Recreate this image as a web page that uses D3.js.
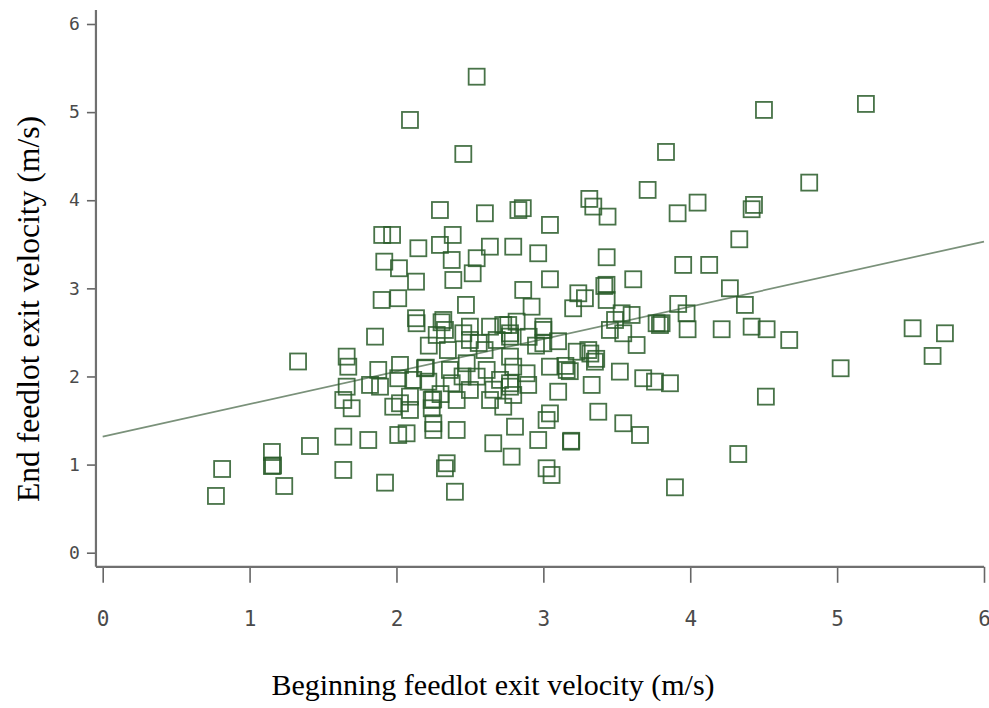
<!DOCTYPE html>
<html>
<head>
<meta charset="utf-8">
<script src="https://cdn.jsdelivr.net/npm/d3@7"></script>
<style>
  body { margin: 0; background: #fff; }
  svg { display: block; }
</style>
</head>
<body>
<div id="chart"></div>
<script>
// beginning vs end feedlot exit velocity
var beginVel = [
  0.771, 0.813, 1.152, 1.152, 1.16, 1.236, 1.411, 1.33,
  2.546, 2.092, 2.455, 3.835, 3.71, 2.296, 2.602, 2.83, 2.86, 3.313, 3.34, 3.437,
  3.045, 1.903, 1.97, 2.149, 2.296, 2.383, 2.636, 2.795, 2.965, 3.431,
  1.917, 2.017, 2.376, 2.546, 2.133, 2.387, 2.519, 3.045, 3.612, 3.415,
  3.43, 3.238, 3.283, 2.863, 1.899, 2.012, 2.473, 2.92, 3.203, 3.431,
  2.133, 2.319,
  4.502, 5.196, 4.81, 4.05, 3.914, 4.434, 4.418, 4.334, 3.952, 4.129,
  4.27, 3.918, 3.975, 4.372, 5.514, 5.734, 5.65, 5.024, 4.674, 4.52,
  4.418, 4.214, 3.982, 3.805, 4.515, 4.327, 3.896, 3.862,
  2.818, 3.0, 3.533, 3.601, 3.771, 3.488, 2.761,
  1.854, 1.661, 1.672, 1.661, 1.638, 1.695, 1.82, 1.876, 1.888, 2.024,
  2.012, 2.114, 1.978, 2.024, 2.092, 2.092, 2.194, 2.217, 2.24, 2.25,
  2.24, 2.251, 2.251, 2.364, 2.376, 2.41, 2.41, 2.33, 2.274, 2.5,
  2.478, 2.546, 2.5, 2.614, 2.705, 2.637, 2.727, 2.773, 2.682, 2.773,
  2.773, 2.637, 2.455, 1.638, 1.638, 1.808, 1.922, 2.012, 2.069, 2.342,
  2.33, 2.398, 2.659, 2.784, 2.137, 2.307, 2.5, 2.727,
  3.0, 3.0, 2.773, 2.795, 2.886, 2.773, 2.897, 2.795, 3.045, 3.159,
  3.101, 3.227, 3.306, 3.351, 3.329, 3.453, 3.544, 3.635, 3.521, 3.68,
  3.76, 3.794, 3.374, 3.544, 3.658, 3.045, 3.022, 2.807, 2.965, 3.188,
  3.19, 3.022, 3.056,
  3.36, 3.32, 3.18, 3.15, 2.22, 2.35, 2.56, 2.6, 2.9, 2.95,
  3.1, 2.2, 2.45, 2.3, 2.66
];
var endVel = [
  0.644, 0.95, 1.143, 0.984, 0.99, 0.757, 1.211, 2.17,
  5.402, 4.911, 4.525, 4.548, 4.117, 3.889, 3.852, 3.889, 3.91, 4.015, 3.928, 3.814,
  3.72, 3.606, 3.606, 3.455, 3.493, 3.606, 3.473, 3.473, 3.398, 3.353,
  3.303, 3.228, 3.322, 3.342, 3.076, 3.095, 3.171, 3.103, 3.103, 3.027,
  3.04, 2.944, 2.888, 2.982, 2.868, 2.888, 2.812, 2.792, 2.774, 2.868,
  2.661, 2.641,
  5.025, 5.093, 4.2, 3.973, 3.852, 3.947, 3.898, 3.557, 3.266, 3.266,
  3.001, 2.823, 2.717, 2.812, 2.547, 2.49, 2.233, 2.093, 2.414, 2.536,
  2.565, 2.536, 2.536, 2.604, 1.771, 1.12, 0.742, 1.923,
  2.622, 2.565, 2.717, 2.698, 2.604, 2.641, 2.584,
  2.452, 2.225, 2.111, 1.884, 1.733, 1.639, 1.904, 2.074, 1.884, 2.131,
  1.98, 1.961, 1.657, 1.696, 1.771, 1.62, 2.093, 1.941, 1.733, 1.74,
  1.639, 1.469, 1.393, 2.074, 1.923, 1.733, 1.393, 2.528, 2.471, 2.414,
  2.15, 1.998, 1.847, 2.074, 1.961, 1.733, 1.657, 1.884, 2.414, 2.452,
  2.225, 2.565, 2.49, 1.317, 0.939, 1.279, 0.795, 1.336, 1.355, 1.015,
  0.958, 0.692, 1.242, 1.09, 2.604, 2.615, 2.565, 2.584,
  2.528, 2.377, 2.49, 2.111, 2.036, 1.923, 1.904, 1.79, 2.111, 2.074,
  1.827, 2.281, 2.3, 2.168, 1.904, 2.528, 2.49, 2.357, 2.055, 1.98,
  1.941, 2.584, 1.6, 1.469, 1.336, 1.581, 1.506, 1.43, 1.279, 1.26,
  1.27, 0.958, 0.882,
  2.2, 2.26, 2.06, 2.12, 2.35, 2.3, 2.38, 2.3, 2.45, 2.35,
  2.4, 2.1, 2.0, 1.8, 1.85
];

// fitted line (intercept, slope)
var fitLine = [1.317, 0.369];

var xTicks = [0, 1, 2, 3, 4, 5, 6];
var yTicks = [0, 1, 2, 3, 4, 5, 6];

var width = 989, height = 708;

var svg = d3.select("#chart").append("svg")
    .attr("width", width)
    .attr("height", height)
    .style("background", "#fff");

var x = d3.scaleLinear().domain([0, 6]).range([102.7, 984]);
var y = d3.scaleLinear().domain([0, 6]).range([552.7, 24]);

var axisX = x(-0.046);   // where the vertical axis line sits
var axisY = y(-0.16);    // where the horizontal axis line sits

var points = beginVel.map(function(d, i) { return {bx: d, ey: endVel[i]}; });

// regression line
svg.append("line")
    .attr("x1", x(0))
    .attr("y1", y(fitLine[0]))
    .attr("x2", x(6))
    .attr("y2", y(fitLine[0] + fitLine[1] * 6))
    .attr("stroke", "#7a917a")
    .attr("stroke-width", 1.7);

// squares
var side = 16;
svg.selectAll(".pt")
    .data(points)
    .enter().append("rect")
    .attr("class", "pt")
    .attr("x", function(d) { return x(d.bx) - side / 2; })
    .attr("y", function(d) { return y(d.ey) - side / 2; })
    .attr("width", side)
    .attr("height", side)
    .attr("fill", "none")
    .attr("stroke", "#285a28")
    .attr("stroke-opacity", 0.85)
    .attr("stroke-width", 1.8);

// y axis
var gy = svg.append("g")
    .attr("transform", "translate(" + axisX + ",0)")
    .call(d3.axisLeft(y).tickValues(yTicks).tickSize(9).tickPadding(7).tickFormat(d3.format("d")));
gy.select(".domain").remove();
gy.selectAll("line").attr("stroke", "#666").attr("stroke-width", 1.6);
gy.selectAll("text")
    .attr("font-family", "DejaVu Sans Mono, monospace")
    .attr("font-size", 18)
    .attr("fill", "#4a4a4a");

// x axis
var gx = svg.append("g")
    .attr("transform", "translate(0," + axisY + ")")
    .call(d3.axisBottom(x).tickValues(xTicks).tickSize(16).tickPadding(28).tickFormat(d3.format("d")));
gx.select(".domain").remove();
gx.selectAll("line").attr("stroke", "#666").attr("stroke-width", 1.6);
gx.selectAll("text")
    .attr("font-family", "DejaVu Sans Mono, monospace")
    .attr("font-size", 21)
    .attr("fill", "#4a4a4a");

// axis lines
svg.append("line")
    .attr("x1", axisX).attr("x2", axisX)
    .attr("y1", y(6.16)).attr("y2", axisY)
    .attr("stroke", "#707070").attr("stroke-width", 2.2);
svg.append("line")
    .attr("x1", axisX).attr("x2", x(6))
    .attr("y1", axisY).attr("y2", axisY)
    .attr("stroke", "#707070").attr("stroke-width", 2.2);

// titles
svg.append("text")
    .attr("x", 493)
    .attr("y", 695)
    .attr("text-anchor", "middle")
    .attr("font-family", "Liberation Serif, Times New Roman, serif")
    .attr("font-size", 30)
    .attr("fill", "#000")
    .text("Beginning feedlot exit velocity (m/s)");

svg.append("text")
    .attr("transform", "translate(39,309) rotate(-90)")
    .attr("text-anchor", "middle")
    .attr("font-family", "Liberation Serif, Times New Roman, serif")
    .attr("font-size", 31)
    .attr("fill", "#000")
    .attr("textLength", 386)
    .attr("lengthAdjust", "spacingAndGlyphs")
    .text("End feedlot exit velocity (m/s)");
</script>
</body>
</html>
